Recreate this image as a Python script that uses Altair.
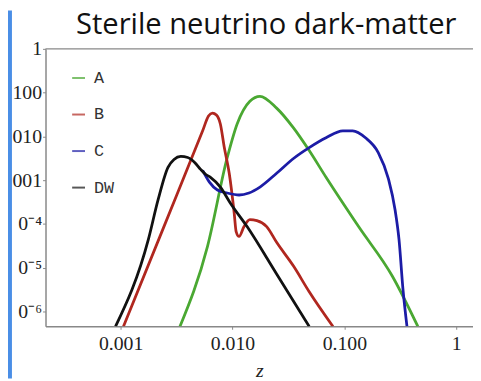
import altair as alt
import pandas as pd

chart_title = "Sterile neutrino dark-matter"
series_names = ["A", "B", "C", "DW"]
series_colors = ["#4aa832", "#b0271f", "#1c1ca6", "#111111"]

a_z = [0.00339, 0.00598, 0.00898, 0.0110, 0.0143, 0.0176, 0.0248, 0.0351, 0.0485, 0.0686, 0.134, 0.268, 0.454]
a_f = [4.5e-7, 3.06e-5, 0.00329, 0.0192, 0.0637, 0.0825, 0.0442, 0.0156, 0.00473, 0.00116, 8.65e-5, 6.43e-6, 4.5e-7]

b_z = [0.00106, 0.0025, 0.00541, 0.0061, 0.00662, 0.00718, 0.00779, 0.00845, 0.00935, 0.01035, 0.01078,
       0.01145, 0.01268, 0.0143, 0.01652, 0.0202, 0.0248, 0.0351, 0.0485, 0.0791]
b_f = [4.5e-7, 1.01e-4, 0.01337, 0.0292, 0.0341, 0.0307, 0.0192, 0.00553, 0.00143, 0.000179, 6.67e-5,
       5.14e-5, 8.65e-5, 0.000124, 0.000118, 8.65e-5, 3.77e-5, 1.08e-5, 2.8e-6, 4.5e-7]

c_z = [0.00541, 0.00622, 0.00733, 0.00898, 0.01145, 0.01403, 0.0176, 0.0248, 0.0351, 0.0485, 0.0686,
       0.0969, 0.1187, 0.1545, 0.201, 0.247, 0.284, 0.308, 0.334, 0.363]
c_f = [0.00167, 0.000897, 0.000592, 0.000506, 0.000456, 0.000506, 0.000692, 0.00143, 0.00312, 0.00553, 0.00929,
       0.01337, 0.01337, 0.00929, 0.00427, 0.0011, 0.000209, 4.4e-5, 3.27e-6, 4.5e-7]

dw_z = [0.0009, 0.00177, 0.00216, 0.00265, 0.0030, 0.00345, 0.00398, 0.00459, 0.00519, 0.00574, 0.00636,
        0.00779, 0.00955, 0.0135, 0.0248, 0.0485]
dw_f = [4.5e-7, 4.4e-5, 0.000352, 0.00196, 0.00296, 0.00347, 0.00329, 0.00254, 0.00176, 0.00136, 0.00116,
        0.000692, 0.000301, 8.65e-5, 7.13e-6, 4.5e-7]

x_ticks = [0.001, 0.01, 0.1, 1]
y_ticks = [1, 0.1, 0.01, 0.001, 1e-4, 1e-5, 1e-6]

rows = []
for name, zs, fs in zip(series_names, [a_z, b_z, c_z, dw_z], [a_f, b_f, c_f, dw_f]):
    for z, f in zip(zs, fs):
        rows.append({"series": name, "z": z, "f": f})
df = pd.DataFrame(rows)

W, H = 433, 281

xscale = alt.Scale(type="log", domain=[2.13e-4, 1.413], nice=False)
yscale = alt.Scale(type="log", domain=[4.54e-7, 1.0], nice=False)

x_label_expr = ("datum.value < 0.005 ? '0.001' : datum.value < 0.05 ? '0.010' : "
                "datum.value < 0.5 ? '0.100' : '1'")
y_label_expr = ("datum.value >= 0.5 ? '1' : datum.value >= 0.05 ? '100' : datum.value >= 0.005 ? '010' : "
                "datum.value >= 0.0005 ? '001' : datum.value >= 0.00005 ? '0\u207b\u2074' : "
                "datum.value >= 0.000005 ? '0\u207b\u2075' : '0\u207b\u2076'")

lines = alt.Chart(df).mark_line(strokeWidth=2.8, clip=True, interpolate="monotone").encode(
    x=alt.X("z:Q", scale=xscale,
            axis=alt.Axis(values=x_ticks, labelExpr=x_label_expr, title="z",
                          titleFont="Liberation Serif", titleFontStyle="italic",
                          titleFontWeight="normal", titleFontSize=20, titleColor="#222",
                          titlePadding=8, labelPadding=4, labelFlush=False)),
    y=alt.Y("f:Q", scale=yscale,
            axis=alt.Axis(values=y_ticks, labelExpr=y_label_expr, title=None,
                          labelPadding=1, labelBaseline="middle")),
    color=alt.Color("series:N",
                    scale=alt.Scale(domain=series_names, range=series_colors),
                    legend=alt.Legend(orient="none", legendX=25, legendY=21, title=None,
                                      symbolType="stroke", symbolSize=170, symbolStrokeWidth=2,
                                      symbolOpacity=0.7, labelFont="Liberation Mono",
                                      labelFontSize=17, labelColor="#333", rowPadding=19,
                                      labelOffset=7)),
)

one = pd.DataFrame({"k": [0]})

top_line = alt.Chart(one).mark_rule(color="#888", strokeWidth=1.5).encode(
    x=alt.value(0), x2=alt.value(W), y=alt.value(0)
)

strip = alt.Chart(one).mark_rect(color="#4a8ee6").encode(
    x=alt.value(-38), x2=alt.value(-34), y=alt.value(-39), y2=alt.value(H + 53)
)

title_text = alt.Chart(one).mark_text(
    text=chart_title, font="Open Sans", fontSize=29.5, fontWeight="normal", color="#111",
    align="center", baseline="alphabetic"
).encode(x=alt.value(W / 2 + 7), y=alt.value(-15))

chart = alt.layer(strip, lines, top_line, title_text).properties(
    width=W, height=H,
    autosize="none",
    padding={"left": 38, "top": 39, "right": 0, "bottom": 53},
).configure_view(stroke=None).configure_axis(
    grid=False, domainColor="#888", domainWidth=1.5, tickColor="#888", tickSize=3,
    labelFont="Liberation Serif", labelFontSize=20, labelColor="#222"
)

chart.save("out.html", embed_options={"renderer": "svg", "actions": False})
